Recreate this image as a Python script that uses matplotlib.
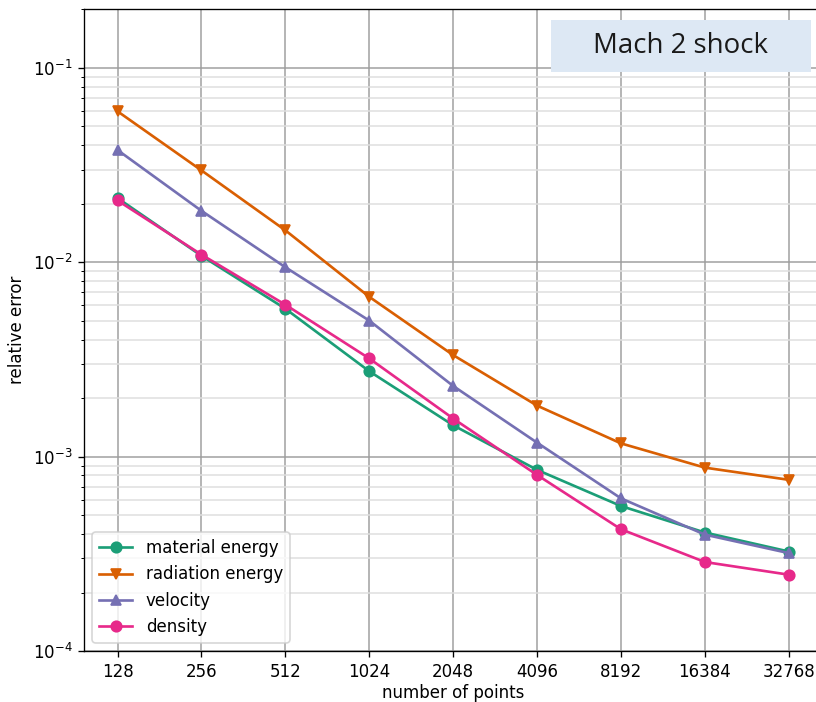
import matplotlib
matplotlib.use("Agg")
import matplotlib.pyplot as plt
from matplotlib.patches import Rectangle
from matplotlib.ticker import NullLocator

# grid resolutions used in the convergence study
n_points = [128, 256, 512, 1024, 2048, 4096, 8192, 16384, 32768]

# relative error of each field against the reference solution
material_energy = [0.0214, 0.0108, 0.00577, 0.00275, 0.00145, 0.000855, 0.000557, 0.000407, 0.000325]
radiation_energy = [0.0598, 0.0297, 0.0146, 0.00664, 0.00333, 0.00183, 0.00117, 0.000878, 0.00076]
velocity = [0.0378, 0.0184, 0.00943, 0.00501, 0.00231, 0.00118, 0.00061, 0.000397, 0.000319]
density = [0.0208, 0.01095, 0.00605, 0.0032, 0.00157, 0.000805, 0.000423, 0.000287, 0.000247]

series = [
    ("material energy", material_energy, "#1b9e77", "o"),
    ("radiation energy", radiation_energy, "#d95f02", "v"),
    ("velocity", velocity, "#7570b3", "^"),
    ("density", density, "#e7298a", "o"),
]

fig = plt.figure(figsize=(6.8, 5.85), dpi=120)
ax = fig.add_axes([0.1029, 0.0726, 0.905, 0.914])

for label, values, color, marker in series:
    ax.plot(n_points, values, marker=marker, color=color, label=label,
            linewidth=1.6, markersize=6.3)

ax.set_xscale("log", base=2)
ax.set_yscale("log")
ax.set_xticks(n_points)
ax.set_xticklabels([str(n) for n in n_points])
ax.xaxis.set_minor_locator(NullLocator())
ax.set_ylim(1e-4, 0.2)

ax.grid(True, which="major", color="0.62", linewidth=0.9)
ax.grid(True, which="minor", axis="y", color="0.87", linewidth=0.9)
ax.set_axisbelow(True)

ax.set_xlabel("number of points", labelpad=2)
ax.set_ylabel("relative error")
ax.legend(loc="lower left")

# case label in the top-right corner
box = Rectangle((0.675, 0.898), 0.3186, 0.0736, transform=fig.transFigure,
                facecolor="#dde8f4", edgecolor="none", zorder=5)
fig.patches.append(box)
fig.text(0.675 + 0.3186 / 2, 0.898 + 0.0736 / 2, "Mach 2 shock",
         ha="center", va="center", fontsize=16.6, family="Open Sans",
         color="#1a1a1a", zorder=6)

fig.savefig("out.png", dpi=120)
